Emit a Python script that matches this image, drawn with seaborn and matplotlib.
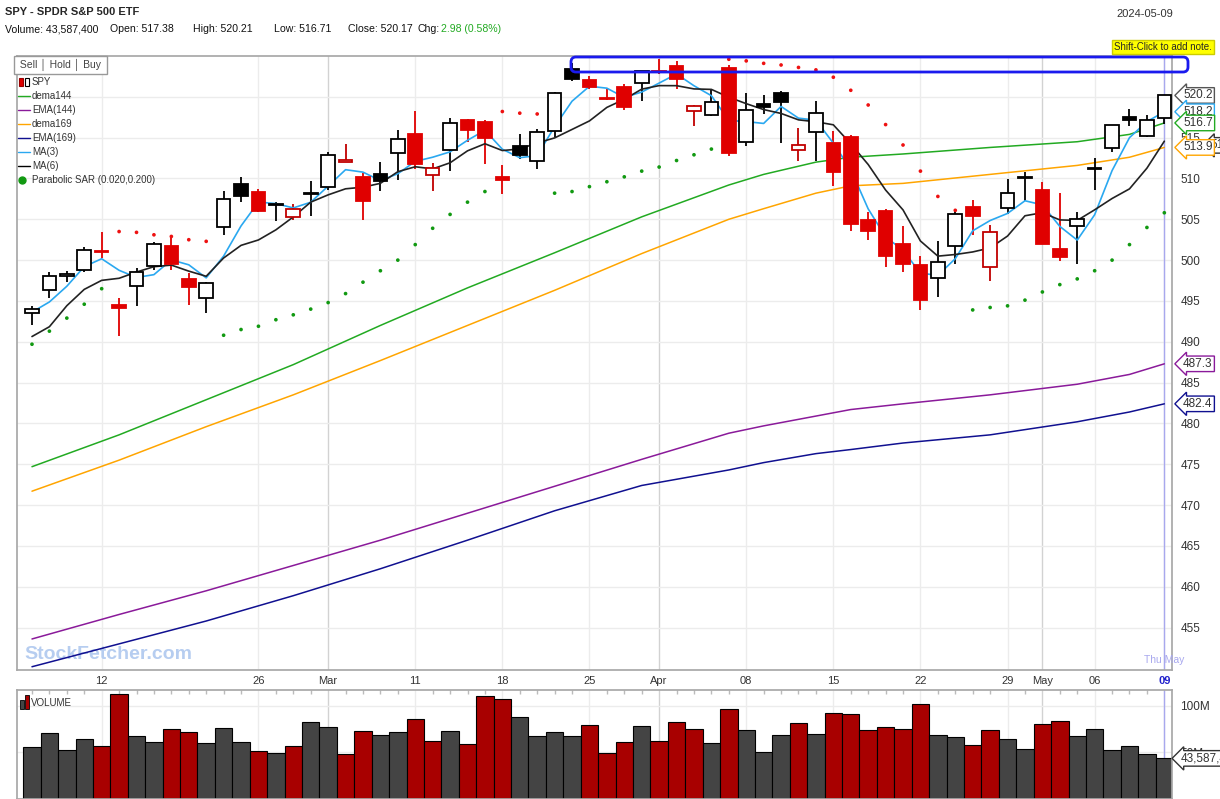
import numpy as np
import pandas as pd
import matplotlib
matplotlib.use("Agg")
import matplotlib.pyplot as plt
from matplotlib.patches import FancyBboxPatch, Rectangle
import seaborn as sns

sns.set_theme(style="white", rc={"font.family": "Liberation Sans"})

# daily bars, 2024-02-06 .. 2024-05-09
dates = ["02-06", "02-07", "02-08", "02-09", "02-12", "02-13", "02-14", "02-15", "02-16", "02-20",
         "02-21", "02-22", "02-23", "02-26", "02-27", "02-28", "02-29", "03-01", "03-04", "03-05",
         "03-06", "03-07", "03-08", "03-11", "03-12", "03-13", "03-14", "03-15", "03-18", "03-19",
         "03-20", "03-21", "03-22", "03-25", "03-26", "03-27", "03-28", "04-01", "04-02", "04-03",
         "04-04", "04-05", "04-08", "04-09", "04-10", "04-11", "04-12", "04-15", "04-16", "04-17",
         "04-18", "04-19", "04-22", "04-23", "04-24", "04-25", "04-26", "04-29", "04-30", "05-01",
         "05-02", "05-03", "05-06", "05-07", "05-08", "05-09"]
opens = [493.52, 496.29, 498.10, 498.84, 501.17, 494.53, 496.79, 499.29, 501.70, 497.72,
         495.42, 504.01, 509.27, 508.30, 506.70, 505.33, 508.07, 508.98, 512.03, 510.24,
         510.55, 513.14, 515.46, 510.48, 513.45, 517.11, 516.97, 510.21, 514.00, 512.15,
         515.77, 523.39, 522.11, 519.80, 521.23, 521.71, 523.21, 523.83, 518.24, 517.72,
         523.52, 514.46, 519.15, 520.50, 513.48, 515.68, 514.37, 515.13, 504.94, 506.05,
         501.98, 499.44, 497.83, 501.78, 506.56, 499.18, 506.35, 510.09, 508.56, 501.38,
         504.15, 511.16, 513.75, 517.56, 515.26, 517.38]
highs = [494.32, 498.53, 498.71, 501.65, 503.50, 495.41, 499.07, 502.20, 502.87, 498.41,
         497.37, 508.49, 510.13, 508.75, 507.16, 506.86, 509.74, 513.29, 514.20, 510.70,
         512.07, 515.89, 518.22, 511.88, 517.38, 517.29, 517.13, 511.70, 515.48, 516.00,
         520.62, 524.11, 522.61, 520.95, 521.58, 523.21, 524.61, 524.38, 518.98, 520.95,
         523.87, 520.44, 520.18, 520.75, 516.16, 519.48, 515.82, 515.30, 505.84, 506.22,
         504.13, 500.46, 502.38, 506.09, 507.37, 504.27, 509.88, 510.75, 509.56, 508.19,
         505.89, 512.55, 516.61, 518.57, 517.74, 520.21]
lows = [492.05, 495.36, 497.26, 498.49, 500.24, 490.72, 494.40, 498.80, 498.75, 494.45,
        493.56, 503.02, 507.10, 505.86, 504.75, 504.96, 505.35, 508.56, 512.00, 504.91,
        508.42, 509.81, 511.13, 508.50, 510.86, 514.49, 511.82, 508.12, 512.44, 511.12,
        515.08, 521.91, 520.97, 519.61, 518.40, 519.49, 522.78, 520.97, 516.48, 517.67,
        512.76, 514.01, 517.89, 514.35, 512.09, 512.08, 509.08, 503.58, 502.51, 499.12,
        498.56, 493.86, 495.43, 499.53, 503.13, 497.49, 505.70, 507.25, 501.98, 499.87,
        499.55, 508.56, 513.30, 516.45, 515.14, 516.71]
closes = [493.98, 498.10, 498.32, 501.20, 500.98, 494.08, 498.57, 502.01, 499.51, 496.76,
          497.21, 507.50, 507.85, 505.99, 506.93, 506.26, 508.08, 512.85, 512.30, 507.18,
          509.75, 514.81, 511.72, 511.28, 516.78, 515.97, 514.95, 509.83, 512.86, 515.71,
          520.48, 522.20, 521.21, 519.77, 518.81, 523.17, 523.07, 522.16, 518.84, 519.41,
          513.07, 518.43, 518.72, 519.32, 514.12, 518.00, 510.85, 504.45, 503.53, 500.55,
          499.52, 495.16, 499.72, 505.65, 505.41, 503.49, 508.26, 510.06, 501.98, 500.35,
          505.03, 511.29, 516.57, 517.14, 517.19, 520.17]
prior_closes = [490.89, 482.88, 489.20, 494.35, 492.55]
volume_m = [55.9, 70.5, 52.3, 63.9, 56.5, 113.1, 68.1, 61.7, 75.5, 71.9,
            60.0, 76.4, 61.3, 51.0, 48.9, 56.5, 83.0, 76.8, 48.5, 72.9,
            68.8, 71.5, 85.5, 62.3, 73.1, 59.3, 110.2, 107.6, 88.3, 67.3,
            71.9, 67.3, 79.8, 49.2, 61.5, 78.6, 61.9, 82.6, 74.7, 59.7,
            96.3, 74.0, 50.9, 68.6, 82.0, 70.1, 92.6, 91.3, 74.5, 77.3,
            75.6, 102.2, 69.1, 66.1, 58.0, 73.9, 64.6, 53.4, 80.6, 83.6,
            67.1, 75.3, 52.6, 57.2, 47.9, 43.6]
sar = [489.7, 491.3, 492.9, 494.6, 496.5, 503.5, 503.4, 503.1, 502.9, 502.5,
       502.3, 490.8, 491.5, 491.9, 492.7, 493.3, 494.0, 494.8, 495.9, 497.3,
       498.7, 500.0, 501.9, 503.9, 505.6, 507.1, 508.4, 518.2, 518.0, 517.9,
       508.2, 508.4, 509.0, 509.6, 510.2, 510.9, 511.4, 512.2, 512.9, 513.6,
       524.6, 524.4, 524.1, 523.9, 523.6, 523.3, 522.4, 520.8, 519.0, 516.6,
       514.1, 510.9, 507.8, 506.1, 493.9, 494.2, 494.4, 495.1, 496.1, 497.0,
       497.7, 498.7, 500.0, 501.9, 504.0, 505.8]

# long averages at selected bars
long_idx = [0, 5, 10, 15, 20, 25, 30, 35, 40, 42, 45, 47, 50, 55, 60, 63, 65]
dema144 = [474.7, 478.6, 482.9, 487.2, 492.0, 496.6, 500.9, 505.3, 509.2, 510.5, 512.0, 512.6, 513.0, 513.8, 514.5, 515.4, 516.8]
dema169 = [471.7, 475.5, 479.6, 483.5, 487.7, 492.0, 496.3, 500.8, 505.0, 506.3, 508.2, 509.1, 509.4, 510.5, 511.6, 512.6, 513.8]
ema144 = [453.6, 456.6, 459.5, 462.6, 465.7, 469.0, 472.3, 475.6, 478.8, 479.7, 480.9, 481.7, 482.4, 483.5, 484.8, 486.0, 487.3]
ema169 = [450.2, 453.0, 455.8, 458.9, 462.2, 465.7, 469.3, 472.4, 474.3, 475.2, 476.3, 476.8, 477.6, 478.6, 480.2, 481.4, 482.4]

tick_idx = [4, 13, 17, 22, 27, 32, 36, 41, 46, 51, 56, 58, 61, 65]
tick_labels = ["12", "26", "Mar", "11", "18", "25", "Apr", "08", "15", "22", "29", "May", "06", "09"]
month_idx = [17, 36, 58]

n = len(closes)
x = np.arange(n)
o, h, l, c = map(np.array, (opens, highs, lows, closes))
prev = np.concatenate([[prior_closes[-1]], c[:-1]])
all_c = pd.Series(prior_closes + closes)
ma3 = all_c.rolling(3).mean().values[len(prior_closes):]
ma6 = all_c.rolling(6).mean().values[len(prior_closes):]

RED = "#e00000"
fig = plt.figure(figsize=(12.2, 7.99), dpi=100)
ax = fig.add_axes([17 / 1220, 1 - 670 / 799, 1155 / 1220, 614 / 799])
axv = fig.add_axes([17 / 1220, 0, 1155 / 1220, 109 / 799], sharex=ax)

for a in (ax, axv):
    a.set_facecolor("white")
    for s in a.spines.values():
        s.set_color("#a8a8a8")
    for t in tick_idx:
        a.axvline(t, color="#d2d2d2" if t in month_idx else "#ececec", lw=1, zorder=0)
    a.axvline(65, color="#a8a8ee", lw=1, zorder=1)
    a.set_xticks(x, minor=True)

ax.set_xlim(-0.86, 65.44)
ax.set_ylim(449.8, 525.0)
for v in range(455, 525, 5):
    ax.axhline(v, color="#ececec", lw=1, zorder=0)

# long moving averages
long_df = pd.DataFrame({"i": long_idx, "dema144": dema144, "dema169": dema169,
                        "ema144": ema144, "ema169": ema169})
for col, colr in [("dema144", "#22aa22"), ("dema169", "#ffa500"), ("ema144", "#8a1a9a"), ("ema169", "#101090")]:
    sns.lineplot(data=long_df, x="i", y=col, ax=ax, color=colr, lw=1.1, zorder=2)
sns.lineplot(x=x, y=ma3, ax=ax, color="#2aa8f0", lw=1.2, zorder=4)
sns.lineplot(x=x, y=ma6, ax=ax, color="#222222", lw=1.2, zorder=4)

# candles
for i in range(n):
    up_day = c[i] >= prev[i]
    if c[i] >= o[i]:
        face, edge = ("white", "black") if up_day else ("white", "#c00000")
    else:
        face, edge = ("black", "black") if up_day else (RED, RED)
    ax.vlines(i, l[i], h[i], color=edge, lw=1.3, zorder=3)
    ax.bar(i, max(abs(c[i] - o[i]), 0.12), bottom=min(o[i], c[i]), width=0.78,
           color=face, edgecolor=edge, lw=1.3, zorder=5)

sar_col = ["#ee1111" if s > cc else "#119911" for s, cc in zip(sar, closes)]
ax.scatter(x, sar, c=sar_col, s=7, zorder=6, linewidths=0)

ax.set_xticks(tick_idx)
ax.set_xticklabels(tick_labels)
ax.tick_params(axis="x", which="major", length=0, pad=4, labelsize=8, labelcolor="#333")
ax.tick_params(axis="x", which="minor", length=3, color="#bbb", direction="out")
for lbl in ax.get_xticklabels():
    if lbl.get_text() == "09":
        lbl.set_color("#2222cc")
        lbl.set_fontweight("bold")
ax.yaxis.tick_right()
ax.set_yticks(range(455, 520, 5))
ax.tick_params(axis="y", length=0, pad=6, labelsize=8.5, labelcolor="#333")
ax.set_xlabel("")
ax.set_ylabel("")

# right edge value boxes
ax.annotate("514.6", (1.0, ma6[-1]), xycoords=("axes fraction", "data"), xytext=(28, -3), textcoords="offset points",
            va="center", ha="left", fontsize=8.5, color="#333", annotation_clip=False,
            bbox=dict(boxstyle="larrow,pad=0.15", fc="white", ec="#333", lw=1), zorder=0)
for val, txt, ec in [(520.17, "520.2", "#555"), (518.17, "518.2", "#2aa8f0"), (516.8, "516.7", "#22aa22"),
                     (513.8, "513.9", "#ffa500"), (487.3, "487.3", "#8a1a9a"), (482.4, "482.4", "#101090")]:
    ax.annotate(txt, (1.0, val), xycoords=("axes fraction", "data"), xytext=(8, 0), textcoords="offset points",
                va="center", ha="left", fontsize=8.5, color="#333", annotation_clip=False,
                bbox=dict(boxstyle="larrow,pad=0.15", fc="white", ec=ec, lw=1))

ax.text(0.006, 0.012, "StockFetcher.com", transform=ax.transAxes, fontsize=14, fontweight="bold",
        color="#b6cdf0", ha="left", va="bottom", zorder=1)
ax.text(65, 451.0, "Thu May", fontsize=7.5, color="#a8a8ee", ha="center", va="center")

# legend panel
fig.text(17 / 1220, 1 - 65 / 799, " Sell │ Hold │ Buy ", fontsize=7.5, color="#444", va="center",
         bbox=dict(boxstyle="square,pad=0.3", fc="white", ec="#999"))
legend_items = [("SPY", None), ("dema144", "#22aa22"), ("EMA(144)", "#8a1a9a"), ("dema169", "#ffa500"),
                ("EMA(169)", "#101090"), ("MA(3)", "#2aa8f0"), ("MA(6)", "black")]
for k, (name, colr) in enumerate(legend_items):
    yy = 1 - (82 + 14 * k) / 799
    if colr:
        fig.add_artist(plt.Line2D([18 / 1220, 30 / 1220], [yy, yy], color=colr, lw=1))
    else:
        fig.add_artist(Rectangle((19 / 1220, yy - 4 / 799), 4 / 1220, 8 / 799, fc=RED, ec="#900", lw=0.8))
        fig.add_artist(Rectangle((25 / 1220, yy - 4 / 799), 4 / 1220, 8 / 799, fc="white", ec="black", lw=0.8))
    fig.text(32 / 1220, yy, name, fontsize=7, color="#333", va="center")
fig.add_artist(plt.Line2D([22 / 1220], [1 - 180 / 799], marker="o", color="#119911", ms=5))
fig.text(32 / 1220, 1 - 180 / 799, "Parabolic SAR (0.020,0.200)", fontsize=7, color="#333", va="center")

# note box and label
fig.add_artist(FancyBboxPatch((5.71, 7.27), 6.17, 0.15, boxstyle="round,pad=0,rounding_size=0.05",
                              transform=fig.dpi_scale_trans, fc="none", ec="#1a1aee", lw=2, zorder=10))
fig.text(1163 / 1220, 1 - 47 / 799, "Shift-Click to add note.", fontsize=7, ha="center", va="center",
         bbox=dict(boxstyle="square,pad=0.25", fc="#ffff00", ec="#cccc00"), zorder=11)

# volume
vol_col = ["#a80000" if cc < pp else "#444444" for cc, pp in zip(c, prev)]
axv.bar(x, volume_m, width=1.0, color=vol_col, edgecolor="black", lw=0.8, zorder=2)
axv.set_ylim(0, 117)
axv.axhline(100, color="#ececec", lw=1, zorder=0)
axv.axhline(50, color="#ececec", lw=1, zorder=0)
axv.yaxis.tick_right()
axv.set_yticks([100, 50])
axv.set_yticklabels(["100M", "50M"])
axv.tick_params(axis="y", length=0, pad=6, labelsize=8.5, labelcolor="#333")
axv.tick_params(axis="x", which="both", labelbottom=False, length=0)
axv.tick_params(axis="x", which="minor", length=3, color="#bbb", direction="in", top=True, bottom=False)
axv.annotate("43,587,400", (1.0, 43.6), xycoords=("axes fraction", "data"), xytext=(6, 0),
             textcoords="offset points", va="center", ha="left", fontsize=8.5, color="#333",
             annotation_clip=False, bbox=dict(boxstyle="larrow,pad=0.15", fc="white", ec="#333", lw=1))
axv.add_patch(Rectangle((0.003, 0.83), 0.003, 0.08, transform=axv.transAxes, fc="#444", ec="black", lw=0.6))
axv.add_patch(Rectangle((0.007, 0.83), 0.003, 0.12, transform=axv.transAxes, fc="#a80000", ec="black", lw=0.6))
axv.text(0.012, 0.88, "VOLUME", transform=axv.transAxes, fontsize=7, color="#333", va="center")

# header
fig.text(5 / 1220, 1 - 12 / 799, "SPY - SPDR S&P 500 ETF", fontsize=8, fontweight="bold", va="center")
fig.text(1145 / 1220, 1 - 14 / 799, "2024-05-09", fontsize=8, color="#333", va="center", ha="center")
head = [(5, "Volume:", "43,587,400"), (110, "Open:", "517.38"), (193, "High:", "520.21"),
        (274, "Low:", "516.71"), (348, "Close:", "520.17")]
for px, lab, val in head:
    fig.text(px / 1220, 1 - 29 / 799, f"{lab} {val}", fontsize=7.6, color="#111", va="center")
fig.text(417 / 1220, 1 - 29 / 799, "Chg:", fontsize=7.6, color="#111", va="center")
fig.text(441 / 1220, 1 - 29 / 799, "2.98 (0.58%)", fontsize=7.6, color="#22aa22", va="center")

fig.savefig("out.png", dpi=100)
